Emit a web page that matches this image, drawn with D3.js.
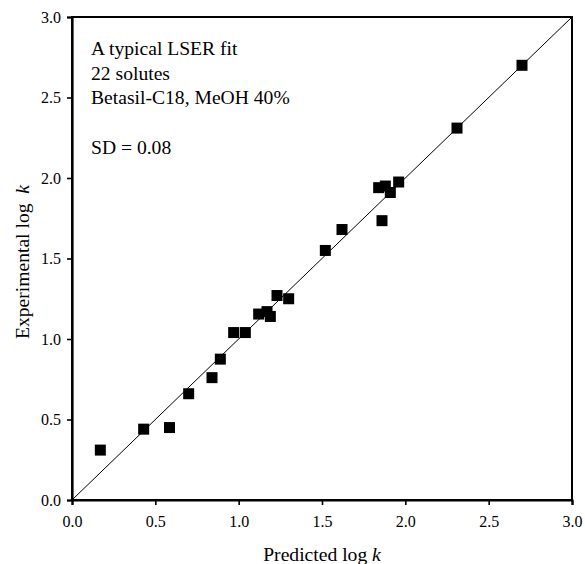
<!DOCTYPE html>
<html>
<head>
<meta charset="utf-8">
<script src="https://cdn.jsdelivr.net/npm/d3@7"></script>
<style>
  html, body { margin: 0; padding: 0; background: #fff; }
  svg { display: block; }
  text { font-family: "Liberation Serif", "Times New Roman", serif; fill: #000; }
</style>
</head>
<body>
<svg id="chart" width="585" height="564"></svg>
<script>
// Data
const predicted = [0.17, 0.43, 0.585, 0.70, 0.84, 0.89, 0.97, 1.04, 1.12, 1.17, 1.19, 1.23, 1.30,
                   1.52, 1.62, 1.86, 1.84, 1.88, 1.91, 1.96, 2.31, 2.70];
const experimental = [0.31, 0.44, 0.45, 0.66, 0.76, 0.875, 1.04, 1.04, 1.155, 1.17, 1.14, 1.27, 1.25,
                      1.55, 1.68, 1.735, 1.94, 1.95, 1.91, 1.975, 2.31, 2.70];
const tickValues = [0.0, 0.5, 1.0, 1.5, 2.0, 2.5, 3.0];
const annotationLines = ["A typical LSER fit", "22 solutes", "Betasil-C18, MeOH 40%", "", "SD = 0.08"];

const svg = d3.select("#chart");
const mLeft = 72, mRight = 572, mTop = 17, mBottom = 500;
const stretch = 1.09;

const x = d3.scaleLinear().domain([0, 3]).range([mLeft, mRight]);
const y = d3.scaleLinear().domain([0, 3]).range([mBottom, mTop]);

// frame
svg.append("rect")
  .attr("x", mLeft).attr("y", mTop)
  .attr("width", mRight - mLeft).attr("height", mBottom - mTop)
  .attr("fill", "none").attr("stroke", "#000").attr("stroke-width", 2);

// axes
const fmt = d3.format(".1f");
const xAxis = svg.append("g").attr("transform", `translate(0,${mBottom})`)
  .call(d3.axisBottom(x).tickValues(tickValues).tickFormat(fmt).tickSize(5).tickPadding(11));
const yAxis = svg.append("g").attr("transform", `translate(${mLeft},0)`)
  .call(d3.axisLeft(y).tickValues(tickValues).tickFormat(fmt).tickSize(5).tickPadding(6));
[xAxis, yAxis].forEach(g => {
  g.select(".domain").attr("stroke", "#000").attr("stroke-width", 2.2);
  g.selectAll(".tick line").attr("stroke", "#000").attr("stroke-width", 1.6);
  g.selectAll(".tick text").attr("font-family", "Liberation Serif, serif").attr("font-size", 16).attr("fill", "#000");
});

// identity line
svg.append("line")
  .attr("x1", x(0)).attr("y1", y(0))
  .attr("x2", x(3)).attr("y2", y(3))
  .attr("stroke", "#000").attr("stroke-width", 1);

// points
const s = 11;
svg.append("g").selectAll("rect")
  .data(predicted.map((p, i) => [p, experimental[i]]))
  .join("rect")
  .attr("x", d => x(d[0]) - s / 2)
  .attr("y", d => y(d[1]) - s / 2)
  .attr("width", s).attr("height", s)
  .attr("fill", "#000");

// annotation
const ann = svg.append("text").attr("font-size", 18)
  .attr("transform", `translate(91,0) scale(${stretch},1)`);
const baselines = [55, 80, 104, 129, 154];
annotationLines.forEach((t, i) => {
  if (t) ann.append("tspan").attr("x", 0).attr("y", baselines[i]).text(t);
});

// axis titles
const xt = svg.append("text")
  .attr("transform", `translate(322,561) scale(${stretch},1)`)
  .attr("text-anchor", "middle").attr("font-size", 18);
xt.append("tspan").text("Predicted log ");
xt.append("tspan").attr("font-style", "italic").text("k");

const yt = svg.append("text")
  .attr("transform", `translate(29,262) rotate(-90) scale(${stretch},1)`)
  .attr("text-anchor", "middle").attr("font-size", 18);
yt.append("tspan").text("Experimental log");
yt.append("tspan").attr("dx", 9).attr("font-style", "italic").text("k");
</script>
</body>
</html>
